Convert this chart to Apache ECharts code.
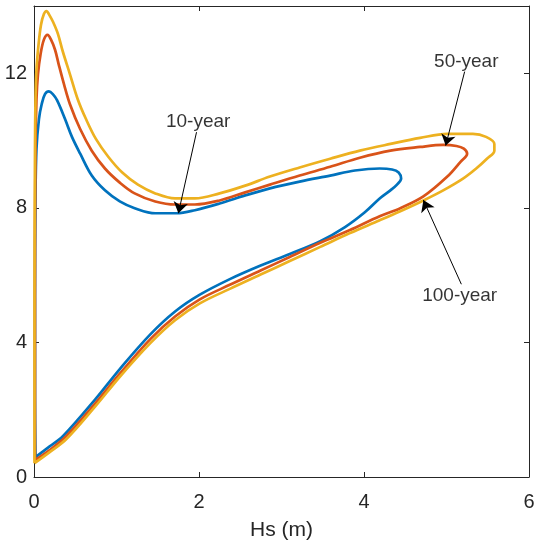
<!DOCTYPE html>
<html>
<head>
<meta charset="utf-8">
<script src="https://cdn.jsdelivr.net/npm/echarts@6/dist/echarts.min.js"></script>
<style>
  html, body { margin: 0; padding: 0; background: #fff; }
  #chart { width: 544px; height: 546px; }
</style>
</head>
<body>
<div id="chart"></div>
<script>
// Environmental contours: significant wave height Hs (m) vs. peak period.
const xTicks = [0, 2, 4, 6];
const yTickLabels = ['0', '4', '8', '12'];

// 10-year contour, [Hs, Tp]
const contour10 = [
  [0.018, 0.59], [0.012, 2.39], [0.012, 5.33], [0.018, 8.28], [0.03, 9.76],
  [0.06, 10.64], [0.093, 11.08], [0.133, 11.38], [0.18, 11.46], [0.228, 11.38],
  [0.279, 11.20], [0.376, 10.64], [0.46, 10.11], [0.56, 9.61], [0.70, 8.96],
  [0.86, 8.52], [1.04, 8.19], [1.22, 7.99], [1.47, 7.84], [1.73, 7.84],
  [1.95, 7.93], [2.25, 8.13], [2.56, 8.37], [2.86, 8.58], [3.22, 8.78],
  [3.59, 8.96], [3.89, 9.11], [4.19, 9.17], [4.34, 9.14], [4.42, 9.05],
  [4.45, 8.87], [4.40, 8.69], [4.32, 8.52], [4.19, 8.28], [4.01, 7.87],
  [3.77, 7.43], [3.47, 7.01], [3.10, 6.63], [2.74, 6.28], [2.38, 5.89],
  [2.01, 5.42], [1.71, 4.92], [1.41, 4.24], [1.04, 3.21], [0.74, 2.30],
  [0.35, 1.21], [0.19, 0.91], [0.018, 0.59]
];

// 50-year contour, [Hs, Tp]
const contour50 = [
  [0.012, 0.50], [0.012, 5.33], [0.018, 9.76], [0.03, 11.23], [0.048, 11.97],
  [0.079, 12.56], [0.12, 13.0], [0.164, 13.14], [0.206, 13.0], [0.255, 12.70],
  [0.30, 12.26], [0.364, 11.67], [0.436, 11.08], [0.558, 10.35], [0.70, 9.70],
  [0.86, 9.17], [1.04, 8.75], [1.22, 8.43], [1.47, 8.19], [1.71, 8.10],
  [1.95, 8.10], [2.25, 8.22], [2.56, 8.46], [2.86, 8.69], [3.22, 8.96],
  [3.59, 9.22], [3.95, 9.49], [4.32, 9.70], [4.68, 9.81], [4.96, 9.87],
  [5.12, 9.84], [5.21, 9.76], [5.25, 9.61], [5.17, 9.37], [5.01, 8.93],
  [4.72, 8.34], [4.44, 7.99], [4.19, 7.75], [3.83, 7.34], [3.47, 6.96],
  [3.10, 6.54], [2.74, 6.13], [2.38, 5.72], [2.01, 5.28], [1.71, 4.77],
  [1.41, 4.10], [1.04, 3.07], [0.74, 2.18], [0.39, 1.21], [0.19, 0.80],
  [0.012, 0.50]
];

// 100-year contour, [Hs, Tp]
const contour100 = [
  [0.006, 0.41], [0.006, 5.33], [0.012, 9.76], [0.018, 11.23], [0.03, 12.11],
  [0.055, 12.85], [0.085, 13.44], [0.12, 13.76], [0.152, 13.85], [0.18, 13.76],
  [0.23, 13.53], [0.29, 13.17], [0.35, 12.64], [0.436, 11.97], [0.53, 11.23],
  [0.63, 10.64], [0.75, 10.05], [0.90, 9.52], [1.07, 9.05], [1.26, 8.69],
  [1.47, 8.43], [1.71, 8.28], [1.95, 8.28], [2.25, 8.43], [2.56, 8.66],
  [2.86, 8.93], [3.22, 9.20], [3.59, 9.46], [3.95, 9.70], [4.32, 9.90],
  [4.68, 10.08], [5.01, 10.20], [5.32, 10.20], [5.48, 10.11], [5.58, 9.90],
  [5.58, 9.70], [5.49, 9.46], [5.36, 9.17], [5.20, 8.87], [4.96, 8.52],
  [4.72, 8.22], [4.44, 7.90], [4.19, 7.63], [3.83, 7.25], [3.47, 6.84],
  [3.10, 6.42], [2.74, 6.01], [2.38, 5.60], [2.01, 5.16], [1.71, 4.66],
  [1.41, 3.98], [1.04, 2.98], [0.74, 2.09], [0.39, 1.12], [0.19, 0.74],
  [0.006, 0.41]
];

// Callouts: label text, text anchor, arrow tail and arrow tip (data coords)
const calloutNames = ['10-year', '50-year', '100-year'];
const calloutText = [[1.99, 10.55], [5.24, 12.35], [5.16, 5.39]];
const calloutTail = [[1.97, 10.25], [5.22, 12.05], [5.18, 5.73]];
const calloutTip = [[1.75, 7.84], [4.99, 9.85], [4.72, 8.23]];

const FONT = '"Liberation Sans", Arial, Helvetica, sans-serif';
const AXIS_COLOR = '#262626';

const chart = echarts.init(document.getElementById('chart'), null, { renderer: 'canvas' });

function contourSeries(name, data, color) {
  return {
    name: name,
    type: 'line',
    data: data,
    smooth: 0.35,
    symbol: 'none',
    clip: true,
    lineStyle: { color: color, width: 2.7 },
    silent: true
  };
}

// Box frame: bottom/left axes carry labels, top/right mirror the ticks
const frameX = (pos, labels) => ({
  type: 'value', position: pos, min: 0, max: 6, interval: 2,
  axisLine: { show: true, onZero: false, lineStyle: { color: AXIS_COLOR, width: 1 } },
  axisTick: { show: true, inside: true, length: 5, lineStyle: { color: AXIS_COLOR } },
  axisLabel: {
    show: labels, margin: 15, fontSize: 20, color: AXIS_COLOR, fontFamily: FONT,
    formatter: v => (xTicks.indexOf(v) >= 0 ? String(v) : '')
  },
  splitLine: { show: false }
});

const frameY = (pos, labels) => ({
  type: 'value', position: pos, min: 0, max: 14, interval: 4,
  axisLine: { show: true, onZero: false, lineStyle: { color: AXIS_COLOR, width: 1 } },
  axisTick: { show: true, inside: true, length: 5, lineStyle: { color: AXIS_COLOR } },
  axisLabel: {
    show: labels, margin: 7, fontSize: 20, color: AXIS_COLOR, fontFamily: FONT,
    formatter: v => { const i = v / 4; return yTickLabels[i] !== undefined ? yTickLabels[i] : ''; }
  },
  splitLine: { show: false }
});

const xBottom = frameX('bottom', true);
xBottom.name = 'Hs (m)';
xBottom.nameLocation = 'middle';
xBottom.nameGap = 43;
xBottom.nameTextStyle = { fontSize: 21, color: AXIS_COLOR, fontFamily: FONT };

chart.setOption({
  animation: false,
  backgroundColor: '#ffffff',
  grid: { left: 34, right: 15, top: 6, bottom: 65, containLabel: false },
  xAxis: [xBottom, frameX('top', false)],
  yAxis: [frameY('left', true), frameY('right', false)],
  series: [
    contourSeries('10-year', contour10, '#0072BD'),
    contourSeries('50-year', contour50, '#D95319'),
    contourSeries('100-year', contour100, '#EDB120'),
    {
      name: 'callouts',
      type: 'scatter',
      symbolSize: 0,
      silent: true,
      z: 5,
      data: calloutNames.map((n, i) => ({ name: n, value: calloutText[i] })),
      label: {
        show: true, position: 'inside', formatter: '{b}',
        fontSize: 19, color: '#000000', fontFamily: FONT
      },
      markLine: {
        silent: true,
        animation: false,
        symbol: ['none', 'arrow'],
        symbolSize: 11,
        lineStyle: { color: '#000000', width: 1, type: 'solid' },
        label: { show: false },
        data: calloutNames.map((n, i) => [
          { coord: calloutTail[i], symbol: 'none' },
          { coord: calloutTip[i], symbol: 'arrow' }
        ])
      }
    }
  ]
});
</script>
</body>
</html>
